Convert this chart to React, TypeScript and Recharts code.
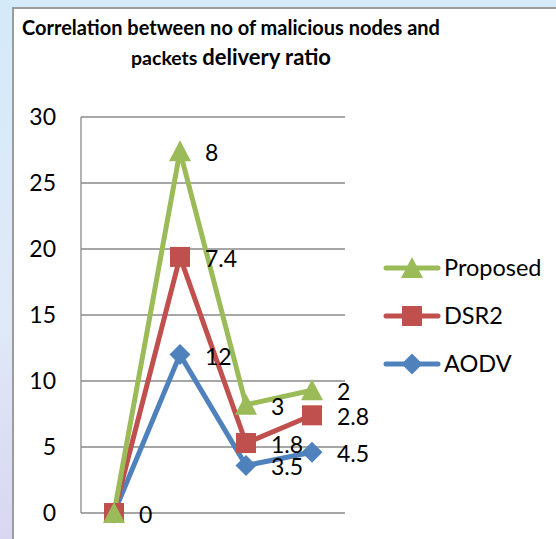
import React from 'react';
import { LineChart, Line, XAxis, YAxis, CartesianGrid, LabelList, Legend } from 'recharts';

const categories = ['1', '2', '3', '4'];
const proposedValues = [0, 27.4, 8.2, 9.3];
const dsr2Values = [0, 19.4, 5.3, 7.4];
const aodvValues = [0, 12, 3.6, 4.6];
const proposedLabels = ['0', '8', '3', '2'];
const dsr2Labels = ['', '7.4', '1.8', '2.8'];
const aodvLabels = ['', '12', '3.5', '4.5'];
const yTicks = [0, 5, 10, 15, 20, 25, 30];
const seriesNames = ['Proposed', 'DSR2', 'AODV'];

const GREEN = '#9BBB59';
const RED = '#C0504D';
const BLUE = '#4F81BD';
const GRID = '#8a8a8a';
const FONT = 'Lato, "Open Sans", sans-serif';

const data = categories.map((c, i) => ({
  cat: c,
  proposed: proposedValues[i],
  dsr2: dsr2Values[i],
  aodv: aodvValues[i],
  proposedLbl: proposedLabels[i],
  dsr2Lbl: dsr2Labels[i],
  aodvLbl: aodvLabels[i],
}));

const Tri = ({ cx, cy, color }: any) => (
  <polygon points={`${cx},${cy - 11} ${cx + 11},${cy + 10} ${cx - 11},${cy + 10}`} fill={color} />
);
const Sq = ({ cx, cy, color }: any) => <rect x={cx - 10} y={cy - 10} width={20} height={20} fill={color} />;
const Dia = ({ cx, cy, color }: any) => (
  <polygon points={`${cx},${cy - 10.5} ${cx + 10.5},${cy} ${cx},${cy + 10.5} ${cx - 10.5},${cy}`} fill={color} />
);

const renderLabel = (props: any) => {
  const { x, y, value, index } = props;
  if (!value) return null;
  return (
    <text key={`l${index}`} x={Number(x) + 25} y={Number(y) + 10} fontSize={23} fontFamily={FONT} fill="#000">
      {value}
    </text>
  );
};

const legendItems = [
  { name: seriesNames[0], color: GREEN, Shape: Tri, y: 268 },
  { name: seriesNames[1], color: RED, Shape: Sq, y: 316 },
  { name: seriesNames[2], color: BLUE, Shape: Dia, y: 364 },
];

const LegendContent = () => (
  <svg width={186} height={160} style={{ overflow: 'visible' }}>
    {legendItems.map((it) => {
      const cy = it.y - 240;
      const S = it.Shape;
      return (
        <g key={it.name}>
          <line x1={16} x2={68} y1={cy} y2={cy} stroke={it.color} strokeWidth={5} strokeLinecap="round" />
          <S cx={42} cy={cy} color={it.color} />
          <text x={74} y={cy + 8} fontSize={23.5} fontFamily={FONT} fill="#000">
            {it.name}
          </text>
        </g>
      );
    })}
  </svg>
);

export default function App() {
  return (
    <div
      style={{
        position: 'absolute',
        left: 0,
        top: 0,
        width: 556,
        height: 539,
        overflow: 'hidden',
        background: 'linear-gradient(180deg, #d4eaf9 0%, #dfe9f7 60%, #d9d6f1 100%)',
      }}
    >
      <div
        style={{
          position: 'absolute',
          left: 12,
          top: 7,
          right: 0,
          bottom: 0,
          background: '#fff',
          borderLeft: '2px solid #9c9c9c',
          borderTop: '2px solid #9c9c9c',
        }}
      />
      <svg width={556} height={80} style={{ position: 'absolute', left: 0, top: 0 }}>
        <text x={231} y={35} textAnchor="middle" fontSize={20} fontWeight={700} fontFamily={FONT} fill="#000">
          Correlation between no of malicious nodes and
        </text>
        <text x={231} y={65} textAnchor="middle" fontWeight={700} fontFamily={FONT} fill="#000">
          <tspan fontSize={19.5}>packets </tspan>
          <tspan fontSize={22}>delivery ratio</tspan>
        </text>
      </svg>
      <div style={{ position: 'absolute', left: 0, top: 0 }}>
        <LineChart width={556} height={539} data={data} margin={{ top: 117, right: 211, bottom: 26, left: 0 }}>
          <CartesianGrid vertical={false} stroke={GRID} strokeWidth={1.3} />
          <XAxis dataKey="cat" hide padding={{ left: 33, right: 33 }} />
          <YAxis
            width={81}
            domain={[0, 30]}
            ticks={yTicks}
            interval={0}
            axisLine={{ stroke: GRID, strokeWidth: 1.3 }}
            tickLine={false}
            tickSize={0}
            tickMargin={25}
            tick={{ fill: '#000', fontSize: 23, fontFamily: FONT }}
          />
          <Legend
            layout="vertical"
            align="center"
            verticalAlign="middle"
            content={<LegendContent />}
            wrapperStyle={{ position: 'absolute', left: 370, top: 240, width: 186, height: 160 }}
          />
          <Line
            dataKey="aodv"
            name={seriesNames[2]}
            stroke={BLUE}
            strokeWidth={5}
            isAnimationActive={false}
            dot={(p: any) => <Dia key={`d${p.index}`} cx={p.cx} cy={p.cy} color={BLUE} />}
            activeDot={false}
          >
            <LabelList dataKey="aodvLbl" content={renderLabel} />
          </Line>
          <Line
            dataKey="dsr2"
            name={seriesNames[1]}
            stroke={RED}
            strokeWidth={5}
            isAnimationActive={false}
            dot={(p: any) => <Sq key={`s${p.index}`} cx={p.cx} cy={p.cy} color={RED} />}
            activeDot={false}
          >
            <LabelList dataKey="dsr2Lbl" content={renderLabel} />
          </Line>
          <Line
            dataKey="proposed"
            name={seriesNames[0]}
            stroke={GREEN}
            strokeWidth={5}
            isAnimationActive={false}
            dot={(p: any) => <Tri key={`t${p.index}`} cx={p.cx} cy={p.cy} color={GREEN} />}
            activeDot={false}
          >
            <LabelList dataKey="proposedLbl" content={renderLabel} />
          </Line>
        </LineChart>
      </div>
    </div>
  );
}
